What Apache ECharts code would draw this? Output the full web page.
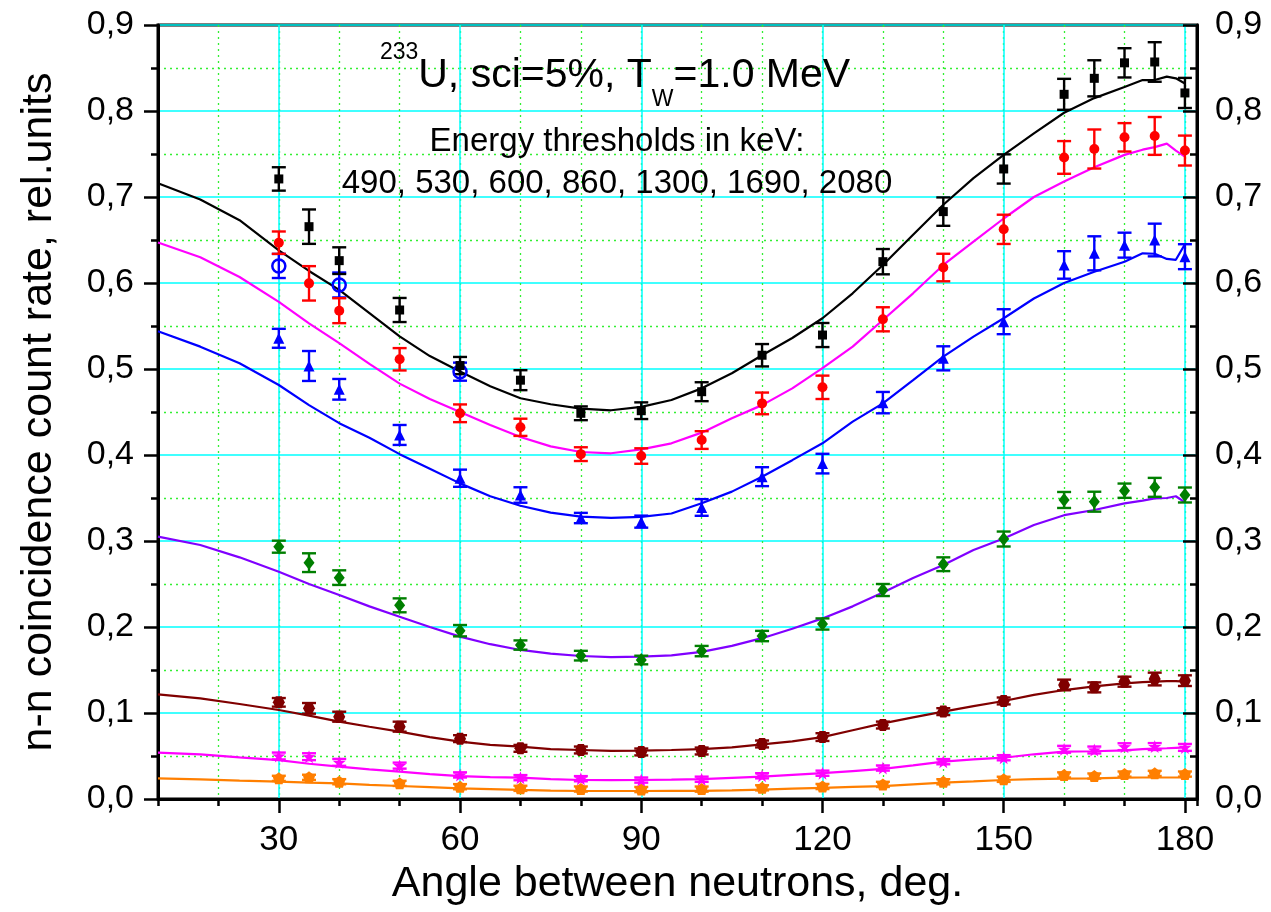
<!DOCTYPE html>
<html><head><meta charset="utf-8">
<script src="https://cdn.jsdelivr.net/npm/echarts@6/dist/echarts.min.js"></script>
<style>html,body{margin:0;padding:0;background:#fff}#c{width:1271px;height:912px}</style>
</head><body><div id="c"></div>
<script>
// ---------- data ----------
const angles = [30,35,40,50,60,70,80,90,100,110,120,130,140,150,160,165,170,175,180];

const blackPts = [0.721,0.6655,0.626,0.5686,0.504,0.487,0.4485,0.4515,0.4736,0.516,0.5395,0.6248,0.683,0.7326,0.8194,0.838,0.856,0.857,0.821];
const blackErr = [0.0136,0.02,0.0155,0.014,0.01,0.0116,0.008,0.0097,0.011,0.013,0.014,0.0147,0.0165,0.017,0.018,0.021,0.017,0.023,0.0175];

const redPts = [0.6469,0.5996,0.5678,0.5113,0.4485,0.4322,0.401,0.3988,0.4174,0.460,0.4787,0.5578,0.618,0.6624,0.746,0.7558,0.7694,0.771,0.754];
const redErr = [0.013,0.02,0.0145,0.013,0.0103,0.01,0.008,0.009,0.0103,0.0126,0.0136,0.014,0.016,0.017,0.019,0.0227,0.0165,0.022,0.0174];

const bluePts = [0.5357,0.5035,0.4764,0.4233,0.373,0.3535,0.3267,0.3225,0.339,0.3748,0.390,0.4609,0.5124,0.555,0.621,0.6345,0.644,0.65,0.6306];
const blueErr = [0.011,0.0174,0.012,0.0116,0.01,0.009,0.006,0.007,0.0097,0.011,0.0114,0.0124,0.014,0.0145,0.016,0.0198,0.0145,0.019,0.0145];

const greenPts = [0.2934,0.2748,0.2574,0.2252,0.1957,0.179,0.1667,0.1616,0.172,0.1895,0.2035,0.243,0.273,0.3023,0.3477,0.3457,0.3585,0.3624,0.3535];
const greenErr = [0.007,0.0109,0.0085,0.0081,0.0066,0.0054,0.0056,0.005,0.006,0.006,0.0065,0.007,0.008,0.0087,0.0093,0.0116,0.0083,0.011,0.0087];

const maroonPts = [0.1124,0.1054,0.0957,0.0841,0.0702,0.0589,0.057,0.0547,0.0558,0.064,0.072,0.086,0.1016,0.114,0.1326,0.1298,0.1364,0.1395,0.1376];
const maroonErr = [0.005,0.0062,0.0058,0.0058,0.004,0.004,0.004,0.004,0.004,0.004,0.0045,0.004,0.004,0.004,0.0062,0.0058,0.0058,0.0074,0.0062];

const pinkPts = [0.05,0.0492,0.0426,0.0388,0.028,0.0248,0.0236,0.022,0.023,0.027,0.03,0.036,0.0434,0.048,0.0578,0.057,0.0608,0.061,0.060];
const pinkErr = [0.004,0.004,0.004,0.0035,0.003,0.003,0.003,0.003,0.003,0.003,0.003,0.003,0.003,0.003,0.004,0.004,0.004,0.004,0.004];

const orangePts = [0.024,0.0252,0.0201,0.0182,0.0143,0.0124,0.0116,0.011,0.0115,0.013,0.0145,0.017,0.020,0.0229,0.028,0.0267,0.029,0.0298,0.029];
const orangeErr = [0.003,0.003,0.003,0.003,0.003,0.003,0.003,0.003,0.003,0.003,0.003,0.003,0.003,0.003,0.003,0.003,0.003,0.003,0.003];

const openAngles = [30,40,60];
const openPts = [0.6198,0.5977,0.4969];
const openErr = [0.014,0.0145,0.0105];

const curveAngles = [10,17,23.5,30,35,40,45,50,55,60,65,70,75,80,85,90,95,100,105,110,115,120,125,130,135,140,145,150,155,160,165,170,173,175,177,178.5,180];
const curveBlack  = [0.716,0.697,0.673,0.638,0.614,0.592,0.565,0.538,0.515,0.497,0.480,0.466,0.459,0.454,0.452,0.456,0.464,0.4775,0.495,0.516,0.536,0.559,0.588,0.621,0.656,0.691,0.722,0.749,0.774,0.798,0.815,0.828,0.836,0.836,0.840,0.838,0.832];
const curveRed    = [0.647,0.630,0.607,0.578,0.553,0.530,0.506,0.483,0.465,0.450,0.435,0.421,0.410,0.4035,0.402,0.4066,0.4136,0.426,0.4426,0.458,0.4775,0.501,0.526,0.557,0.588,0.621,0.648,0.675,0.700,0.718,0.7345,0.749,0.755,0.758,0.762,0.754,0.747];
const curveBlue   = [0.544,0.526,0.5066,0.4814,0.458,0.437,0.420,0.401,0.384,0.367,0.352,0.341,0.333,0.3283,0.327,0.328,0.332,0.3438,0.3574,0.3748,0.394,0.4136,0.4388,0.460,0.487,0.5143,0.5376,0.559,0.582,0.600,0.613,0.6248,0.6345,0.634,0.628,0.627,0.645];
const curveGreen  = [0.305,0.2953,0.281,0.2643,0.250,0.2372,0.224,0.212,0.200,0.1888,0.180,0.1733,0.169,0.1663,0.165,0.1655,0.167,0.171,0.178,0.187,0.198,0.210,0.224,0.240,0.257,0.272,0.2895,0.303,0.3186,0.330,0.336,0.3438,0.347,0.3496,0.350,0.352,0.345];
const curveMaroon = [0.1217,0.117,0.1105,0.1035,0.097,0.0899,0.084,0.0783,0.072,0.0667,0.063,0.0608,0.058,0.057,0.056,0.0562,0.057,0.058,0.060,0.0635,0.067,0.072,0.080,0.088,0.095,0.1016,0.108,0.114,0.121,0.1267,0.131,0.1345,0.136,0.1365,0.137,0.137,0.1365];
const curvePink   = [0.0539,0.052,0.0484,0.0453,0.041,0.0376,0.0345,0.0318,0.029,0.0267,0.0255,0.0248,0.023,0.0221,0.022,0.0221,0.0225,0.023,0.0245,0.026,0.028,0.030,0.0325,0.035,0.039,0.0434,0.046,0.048,0.052,0.055,0.0555,0.0566,0.058,0.0585,0.059,0.0595,0.060];
const curveOrange = [0.024,0.0229,0.0213,0.0201,0.019,0.0182,0.0165,0.0151,0.0138,0.0124,0.0115,0.0105,0.0098,0.0093,0.0093,0.0093,0.0094,0.0095,0.010,0.011,0.012,0.013,0.014,0.015,0.017,0.019,0.0205,0.0221,0.023,0.0236,0.024,0.0248,0.025,0.025,0.025,0.025,0.025];

const xTickValues = [30,60,90,120,150,180];
const xAxisTitle = 'Angle between neutrons, deg.';
const yAxisTitle = 'n-n coincidence count rate, rel.units';

// ---------- helpers ----------
const FONT = "'Liberation Sans', Arial, Helvetica, sans-serif";
function pairs(xs, ys) { return xs.map((x, i) => [x, ys[i]]); }
function triples(xs, ys, es) { return xs.map((x, i) => [x, ys[i], es[i]]); }

function errSeries(xs, ys, es, color) {
  return {
    type: 'custom', z: 4, silent: true,
    encode: { x: 0, y: 1 },
    data: triples(xs, ys, es),
    renderItem: function (params, api) {
      const x = api.value(0), y = api.value(1), e = api.value(2);
      const hi = api.coord([x, y + e]), lo = api.coord([x, y - e]);
      const w = 7;
      const st = { stroke: color, lineWidth: 2.4 };
      return { type: 'group', children: [
        { type: 'line', shape: { x1: hi[0], y1: hi[1], x2: lo[0], y2: lo[1] }, style: st },
        { type: 'line', shape: { x1: hi[0] - w, y1: hi[1], x2: hi[0] + w, y2: hi[1] }, style: st },
        { type: 'line', shape: { x1: lo[0] - w, y1: lo[1], x2: lo[0] + w, y2: lo[1] }, style: st }
      ]};
    }
  };
}
function pts(xs, ys, color, symbol, size, extra) {
  return Object.assign({
    type: 'scatter', z: 5, silent: true,
    data: pairs(xs, ys), symbol: symbol, symbolSize: size,
    itemStyle: { color: color, opacity: 1 }
  }, extra || {});
}
function curve(ys, color) {
  return {
    type: 'line', z: 3, silent: true, showSymbol: false, symbol: 'none',
    data: pairs(curveAngles, ys),
    lineStyle: { color: color, width: 2.2 }
  };
}

const STAR = 'path://M0,-10 L2.35,-3.24 L9.51,-3.09 L3.8,1.24 L5.88,8.09 L0,4 L-5.88,8.09 L-3.8,1.24 L-9.51,-3.09 L-2.35,-3.24 Z';
const PENTA = 'path://M0,-10 L9.5,-3.1 L5.9,8.1 L-5.9,8.1 L-9.5,-3.1 Z';
const HEXA = 'path://M-10,0 L-5,-8.66 L5,-8.66 L10,0 L5,8.66 L-5,8.66 Z';

const cFmt = v => v.toFixed(1).replace('.', ',');

const chart = echarts.init(document.getElementById('c'), null, { renderer: 'canvas' });
chart.setOption({
  backgroundColor: '#fff',
  animation: false,
  textStyle: { fontFamily: FONT },
  grid: { left: 158, right: 74, top: 25, bottom: 113, show: true, borderColor: '#000', borderWidth: 3, backgroundColor: 'transparent' },
  xAxis: [
    { type: 'value', min: 10, max: 182, interval: 10, position: 'bottom',
      axisLine: { show: true, onZero: false, lineStyle: { color: '#000', width: 3 } },
      axisTick: { show: true, length: 7, lineStyle: { color: '#000', width: 2.5 } },
      axisLabel: { show: false },
      splitLine: { show: true, lineStyle: { color: '#33ee33', type: [2, 4], width: 1.3 } } },
    { type: 'value', min: 10, max: 182, position: 'bottom',
      axisLine: { show: false, onZero: false },
      axisTick: { show: true, length: 14, customValues: xTickValues, lineStyle: { color: '#000', width: 2.5 } },
      axisLabel: { show: true, customValues: xTickValues, fontSize: 35, color: '#000', margin: 24, fontFamily: FONT },
      splitLine: { show: true, lineStyle: { color: '#00ffff', width: 1.5 } },
      name: xAxisTitle, nameLocation: 'middle', nameGap: 64,
      nameTextStyle: { fontSize: 43, color: '#000', fontFamily: FONT } }
  ],
  yAxis: [
    { type: 'value', min: 0, max: 0.9, interval: 0.1, position: 'left',
      axisLine: { show: true, onZero: false, lineStyle: { color: '#000', width: 3 } },
      axisTick: { show: true, length: 14, lineStyle: { color: '#000', width: 2.5 } },
      minorTick: { show: true, splitNumber: 2, length: 7, lineStyle: { color: '#000', width: 2.5 } },
      axisLabel: { formatter: cFmt, fontSize: 34, color: '#000', margin: 24, fontFamily: FONT },
      splitLine: { show: true, lineStyle: { color: '#00ffff', width: 1.5 } },
      minorSplitLine: { show: true, lineStyle: { color: '#33ee33', type: [2, 4], width: 1.3 } },
      name: yAxisTitle, nameLocation: 'middle', nameGap: 97,
      nameTextStyle: { fontSize: 43, color: '#000', fontFamily: FONT } },
    { type: 'value', min: 0, max: 0.9, interval: 0.1, position: 'right',
      axisLine: { show: true, onZero: false, lineStyle: { color: '#000', width: 3 } },
      axisTick: { show: true, inside: true, length: 14, lineStyle: { color: '#000', width: 2.5 } },
      minorTick: { show: true, splitNumber: 2, length: 7, lineStyle: { color: '#000', width: 2.5 } },
      axisLabel: { formatter: cFmt, fontSize: 34, color: '#000', margin: 18, fontFamily: FONT },
      splitLine: { show: false } }
  ],
  graphic: [
    { type: 'text', x: 615, y: 41, z: 10, silent: true,
      style: {
        text: '{sup|233}{m|U, sci=5%, T}{sub|W}{m|=1.0 MeV}',
        align: 'center', textAlign: 'center', verticalAlign: 'top', textVerticalAlign: 'top',
        fill: '#000', font: '41px ' + FONT,
        rich: {
          m: { fontSize: 41, fontFamily: FONT, lineHeight: 70, verticalAlign: 'middle', fill: '#000' },
          sup: { fontSize: 23, fontFamily: FONT, lineHeight: 24, verticalAlign: 'top', fill: '#000' },
          sub: { fontSize: 23, fontFamily: FONT, lineHeight: 24, verticalAlign: 'bottom', fill: '#000' }
        }
      } },
    { type: 'text', x: 617, y: 121, z: 10, silent: true,
      style: {
        text: 'Energy thresholds in keV:\n490, 530, 600, 860, 1300, 1690, 2080',
        align: 'center', textAlign: 'center', verticalAlign: 'top', textVerticalAlign: 'top',
        fill: '#000', font: '33px ' + FONT, lineHeight: 42
      } }
  ],
  series: [
    curve(curveOrange, '#ff7f00'),
    curve(curvePink, '#ff00ff'),
    curve(curveMaroon, '#800000'),
    curve(curveGreen, '#8000ff'),
    curve(curveBlue, '#0000ff'),
    curve(curveRed, '#ff00ff'),
    curve(curveBlack, '#000000'),
    errSeries(angles, orangePts, orangeErr, '#ff7f00'),
    errSeries(angles, pinkPts, pinkErr, '#ff00ff'),
    errSeries(angles, maroonPts, maroonErr, '#800000'),
    errSeries(angles, greenPts, greenErr, '#007f00'),
    errSeries(angles, bluePts, blueErr, '#0000ff'),
    errSeries(openAngles, openPts, openErr, '#0000ff'),
    errSeries(angles, redPts, redErr, '#ff0000'),
    errSeries(angles, blackPts, blackErr, '#000000'),
    pts(angles, orangePts, '#ff7f00', PENTA, 12),
    pts(angles, pinkPts, '#ff00ff', STAR, 13),
    pts(angles, maroonPts, '#800000', HEXA, 12),
    pts(angles, greenPts, '#007f00', 'diamond', [11, 14]),
    pts(angles, bluePts, '#0000ff', 'triangle', 11),
    pts(openAngles, openPts, '#0000ff', 'circle', 13, { itemStyle: { color: 'rgba(0,0,0,0)', borderColor: '#0000ff', borderWidth: 2.5, opacity: 1 } }),
    pts(angles, redPts, '#ff0000', 'circle', 10),
    pts(angles, blackPts, '#000000', 'rect', 9)
  ]
});
</script>
</body></html>
